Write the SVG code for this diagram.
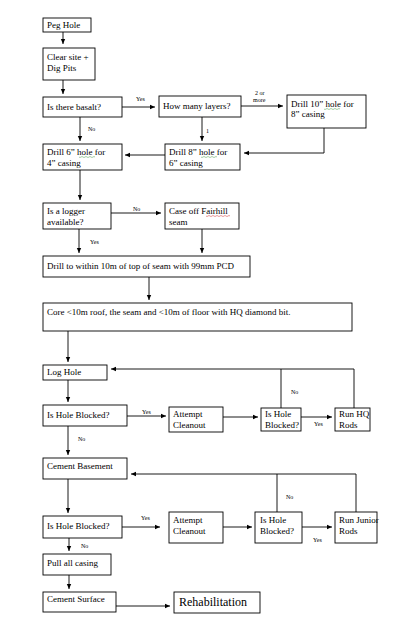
<svg xmlns="http://www.w3.org/2000/svg" width="400" height="640" viewBox="0 0 400 640">
<defs>
<marker id="ah" markerWidth="6" markerHeight="6" refX="5" refY="3" orient="auto" markerUnits="userSpaceOnUse">
<path d="M0,0.8 L5,3 L0,5.2 z" fill="#000"/>
</marker>
<style>
.b{fill:#fff;stroke:#000;stroke-width:0.9}
.t{font-family:"Liberation Serif","Times New Roman",serif;font-size:9px;fill:#000}
.s{font-family:"Liberation Serif","Times New Roman",serif;font-size:6px;fill:#000}
.c{fill:none;stroke:#000;stroke-width:0.9}
.a{marker-end:url(#ah)}
.sg{fill:none;stroke:#4a9a4a;stroke-width:0.5}
.sr{fill:none;stroke:#d03030;stroke-width:0.5}
</style>
</defs>
<rect width="400" height="640" fill="#fff"/>

<g id="connectors">
<line class="c a" x1="63" y1="32" x2="63" y2="44"/>
<line class="c a" x1="63" y1="80" x2="63" y2="94"/>
<line class="c a" x1="122" y1="107" x2="155" y2="107"/>
<line class="c a" x1="241" y1="106" x2="283" y2="106"/>
<line class="c a" x1="202" y1="117" x2="202" y2="141"/>
<polyline class="c a" points="324,128 324,153 244,153"/>
<line class="c a" x1="80" y1="117" x2="80" y2="141"/>
<line class="c a" x1="165" y1="155" x2="125" y2="155"/>
<line class="c a" x1="80" y1="170" x2="80" y2="200"/>
<line class="c a" x1="111" y1="213" x2="161" y2="213"/>
<line class="c a" x1="79" y1="229" x2="79" y2="253"/>
<line class="c a" x1="202" y1="229" x2="202" y2="253"/>
<line class="c a" x1="149" y1="277" x2="149" y2="300"/>
<line class="c a" x1="68" y1="331" x2="68" y2="362"/>
<line class="c a" x1="68" y1="380" x2="68" y2="402"/>
<line class="c a" x1="127" y1="416" x2="166" y2="416"/>
<line class="c a" x1="223" y1="417" x2="258" y2="417"/>
<line class="c a" x1="301" y1="417" x2="332" y2="417"/>
<polyline class="c a" points="354,408 354,369 111,369"/>
<line class="c" x1="281" y1="408" x2="281" y2="369"/>
<line class="c a" x1="68" y1="426" x2="68" y2="455"/>
<line class="c a" x1="68" y1="479" x2="68" y2="513"/>
<line class="c a" x1="122" y1="527" x2="160" y2="527"/>
<line class="c a" x1="223" y1="527" x2="252" y2="527"/>
<line class="c a" x1="302" y1="527" x2="332" y2="527"/>
<polyline class="c a" points="356,512 356,474 131,474"/>
<line class="c" x1="277" y1="512" x2="277" y2="474"/>
<line class="c a" x1="69" y1="538" x2="69" y2="551"/>
<line class="c a" x1="69" y1="575" x2="69" y2="589"/>
<line class="c a" x1="116" y1="606" x2="170" y2="606"/>
<text class="s" x="136" y="101">Yes</text>
<text class="s" x="255" y="95">2 or</text>
<text class="s" x="253" y="102">more</text>
<text class="s" x="206" y="133">1</text>
<text class="s" x="88" y="131">No</text>
<text class="s" x="133" y="211">No</text>
<text class="s" x="90" y="244">Yes</text>
<text class="s" x="142" y="414">Yes</text>
<text class="s" x="78" y="441">No</text>
<text class="s" x="291" y="394">No</text>
<text class="s" x="314" y="426">Yes</text>
<text class="s" x="141" y="520">Yes</text>
<text class="s" x="81" y="548">No</text>
<text class="s" x="286" y="499">No</text>
<text class="s" x="313" y="542">Yes</text>
</g>

<g id="peg"><rect class="b" x="43" y="18" width="48" height="14"/><text class="t" x="47" y="28">Peg Hole</text></g>
<g id="clear"><rect class="b" x="43" y="48" width="52" height="32"/><text class="t" x="47" y="60">Clear site +</text><text class="t" x="47" y="71">Dig Pits</text></g>
<g id="basalt"><rect class="b" x="43" y="97" width="79" height="20"/><text class="t" x="47" y="110">Is there basalt?</text></g>
<g id="layers"><rect class="b" x="159" y="96" width="82" height="21"/><text class="t" x="163" y="109">How many layers?</text></g>
<g id="drill10"><rect class="b" x="287" y="95" width="79" height="33"/><text class="t" x="291" y="107">Drill 10” hole for</text><text class="t" x="291" y="117">8” casing</text><path class="sg" d="M324,109 q1,1 2,0 t2,0 t2,0 t2,0 t2,0 t2,0 t2,0 t2,0"/></g>
<g id="drill8"><rect class="b" x="165" y="144" width="75" height="26"/><text class="t" x="169" y="155">Drill 8” hole for</text><text class="t" x="169" y="166">6” casing</text><path class="sg" d="M201,157 q1,1 2,0 t2,0 t2,0 t2,0 t2,0 t2,0 t2,0 t2,0"/></g>
<g id="drill6"><rect class="b" x="43" y="144" width="79" height="26"/><text class="t" x="47" y="155">Drill 6” hole for</text><text class="t" x="47" y="166">4” casing</text><path class="sg" d="M79,157 q1,1 2,0 t2,0 t2,0 t2,0 t2,0 t2,0 t2,0 t2,0"/></g>
<g id="logger"><rect class="b" x="43" y="203" width="68" height="26"/><text class="t" x="47" y="214">Is a logger</text><text class="t" x="47" y="225">available?</text></g>
<g id="caseoff"><rect class="b" x="165" y="203" width="74" height="26"/><text class="t" x="169" y="214">Case off Fairhill</text><text class="t" x="169" y="225">seam</text><path class="sr" d="M206,216 q1,1 2,0 t2,0 t2,0 t2,0 t2,0 t2,0 t2,0 t2,0 t2,0 t2,0 t2,0 t2,0"/></g>
<g id="drillto"><rect class="b" x="43" y="256" width="207" height="21"/><text class="t" x="47" y="269">Drill to within 10m of top of seam with 99mm PCD</text></g>
<g id="core"><rect class="b" x="43" y="303" width="309" height="28"/><text class="t" x="47" y="315">Core &lt;10m roof, the seam and &lt;10m of floor with HQ diamond bit.</text></g>
<g id="loghole"><rect class="b" x="43" y="365" width="64" height="15"/><text class="t" x="47" y="375">Log Hole</text></g>
<g id="blocked1"><rect class="b" x="43" y="405" width="84" height="21"/><text class="t" x="47" y="418">Is Hole Blocked?</text></g>
<g id="attempt1"><rect class="b" x="169" y="407" width="54" height="25"/><text class="t" x="173" y="417">Attempt</text><text class="t" x="173" y="428">Cleanout</text></g>
<g id="blocked1b"><rect class="b" x="261" y="408" width="40" height="23"/><text class="t" x="265" y="417">Is Hole</text><text class="t" x="265" y="428">Blocked?</text></g>
<g id="runhq"><rect class="b" x="335" y="408" width="35" height="23"/><text class="t" x="339" y="417">Run HQ</text><text class="t" x="339" y="428">Rods</text></g>
<g id="cementbase"><rect class="b" x="43" y="458" width="84" height="21"/><text class="t" x="47" y="469">Cement Basement</text></g>
<g id="blocked2"><rect class="b" x="43" y="516" width="79" height="22"/><text class="t" x="47" y="529">Is Hole Blocked?</text></g>
<g id="attempt2"><rect class="b" x="169" y="512" width="54" height="31"/><text class="t" x="173" y="523">Attempt</text><text class="t" x="173" y="534">Cleanout</text></g>
<g id="blocked2b"><rect class="b" x="255" y="512" width="47" height="31"/><text class="t" x="260" y="523">Is Hole</text><text class="t" x="260" y="534">Blocked?</text></g>
<g id="runjunior"><rect class="b" x="335" y="512" width="42" height="31"/><text class="t" x="339" y="523">Run Junior</text><text class="t" x="339" y="534">Rods</text></g>
<g id="pull"><rect class="b" x="43" y="554" width="68" height="21"/><text class="t" x="47" y="566">Pull all casing</text></g>
<g id="cementsurf"><rect class="b" x="43" y="592" width="73" height="20"/><text class="t" x="47" y="602">Cement Surface</text></g>
<g id="rehab"><rect class="b" x="174" y="592" width="86" height="21"/><text class="t" x="179" y="606" style="font-size:12px">Rehabilitation</text></g>
</svg>
